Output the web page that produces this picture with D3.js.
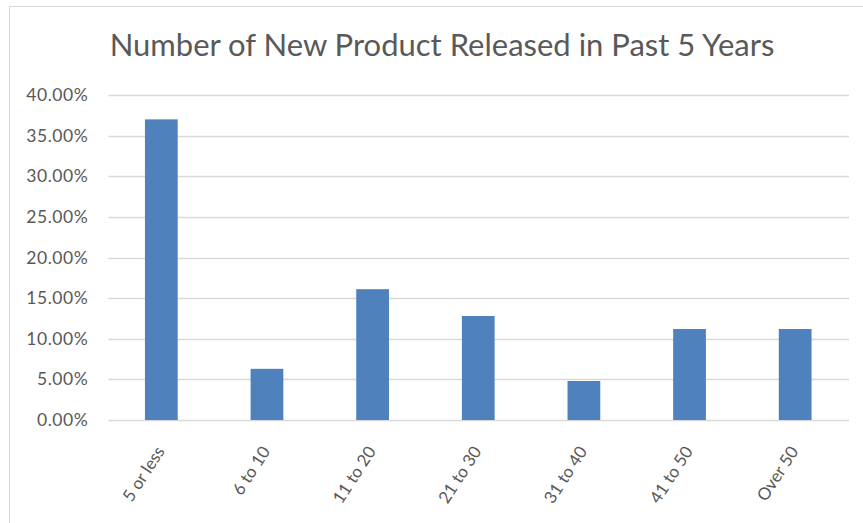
<!DOCTYPE html>
<html>
<head>
<meta charset="utf-8">
<script src="https://cdn.jsdelivr.net/npm/d3@7"></script>
<style>
  body { margin: 0; background: #fff; }
  svg { display: block; }
</style>
</head>
<body>
<svg id="chart" width="863" height="523"></svg>
<script>
// values
var categories = ['5 or less', '6 to 10', '11 to 20', '21 to 30', '31 to 40', '41 to 50', 'Over 50'];
var shares = [0.370, 0.063, 0.161, 0.128, 0.048, 0.112, 0.112];
var yTicks = [0, 0.05, 0.10, 0.15, 0.20, 0.25, 0.30, 0.35, 0.40];

var svg = d3.select('#chart');
var font = 'Lato, "Open Sans", sans-serif';

// chart border
svg.append('rect')
    .attr('x', 9.5).attr('y', 6.5)
    .attr('width', 870).attr('height', 530)
    .attr('fill', '#fff')
    .attr('stroke', '#d9d9d9');

// plot area (don't call it "top", that's window.top)
var plotLeft = 108.5, plotRight = 848, plotTop = 95, plotBottom = 420;

var x = d3.scaleBand().domain(categories).range([plotLeft, plotRight]).paddingInner(0.69).paddingOuter(0.345);
var y = d3.scaleLinear().domain([0, 0.4]).range([plotBottom, plotTop]);

// title
svg.append('text')
    .attr('x', 442).attr('y', 56)
    .attr('text-anchor', 'middle')
    .attr('font-family', font)
    .attr('font-size', 31)
    .attr('fill', '#595959')
    .text('Number of New Product Released in Past 5 Years');

// gridlines
svg.append('g').selectAll('line')
    .data(yTicks)
    .enter().append('line')
    .attr('x1', plotLeft).attr('x2', plotRight + 1)
    .attr('y1', function(d) { return Math.round(y(d)) + 0.5; })
    .attr('y2', function(d) { return Math.round(y(d)) + 0.5; })
    .attr('stroke', '#d9d9d9')
    .attr('stroke-width', 1.3);

// y axis labels
var yAxis = d3.axisLeft(y).tickValues(yTicks).tickSize(0).tickPadding(20)
    .tickFormat(function(d) { return (d * 100).toFixed(2) + '%'; });
var yg = svg.append('g').attr('transform', 'translate(' + plotLeft + ',0)').call(yAxis);
yg.select('.domain').remove();
yg.selectAll('text')
    .attr('font-family', font)
    .attr('font-size', 17.5)
    .attr('letter-spacing', 0.6)
    .attr('fill', '#595959');

// bars
svg.append('g').selectAll('rect')
    .data(shares)
    .enter().append('rect')
    .attr('x', function(d, i) { return x(categories[i]); })
    .attr('y', function(d) { return y(d); })
    .attr('width', x.bandwidth())
    .attr('height', function(d) { return y(0) - y(d); })
    .attr('fill', '#4f81bd');

// x axis labels
var xAxis = d3.axisBottom(x).tickSize(0).tickPadding(0);
var xg = svg.append('g').attr('transform', 'translate(0,' + plotBottom + ')').call(xAxis);
xg.select('.domain').remove();
xg.selectAll('text')
    .attr('font-family', font)
    .attr('font-size', 17)
    .attr('fill', '#595959')
    .attr('text-anchor', 'end')
    .attr('dy', '0.35em')
    .attr('transform', 'translate(-1,28) rotate(-57)');
</script>
</body>
</html>
